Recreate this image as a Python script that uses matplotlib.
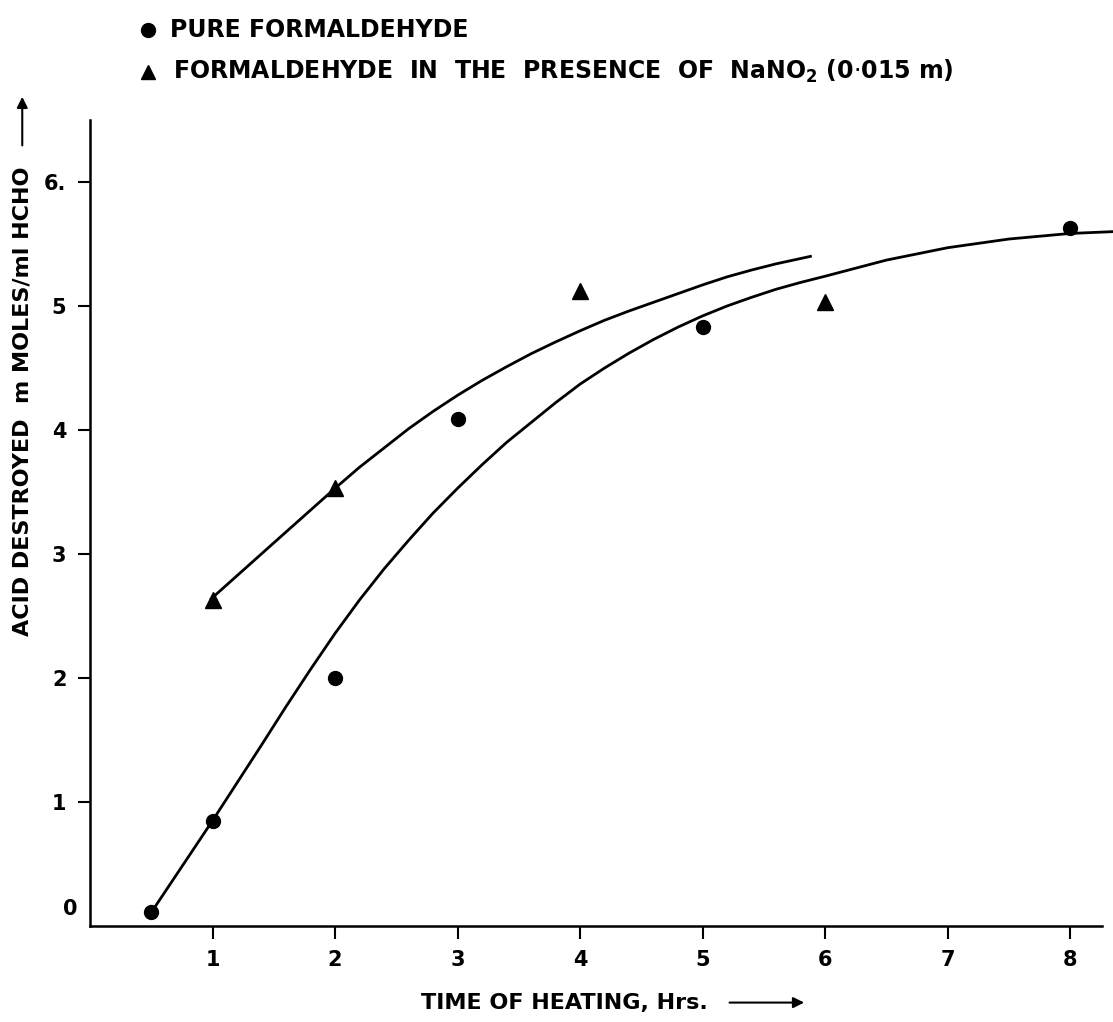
import matplotlib
matplotlib.use("Agg")
import matplotlib.pyplot as plt

plt.rcParams['font.family'] = ['DejaVu Sans']
plt.rcParams['mathtext.fontset'] = 'dejavusans'

# measured points
pure_x = [0.5, 1, 2, 3, 5, 8]
pure_y = [0.11, 0.85, 2.0, 4.09, 4.83, 5.63]
nitrite_x = [1, 2, 4, 6]
nitrite_y = [2.63, 3.53, 5.12, 5.03]

# hand drawn curves
pure_curve_x = [0.5, 1.0, 1.4, 1.6, 1.8, 2.0, 2.2, 2.4, 2.6, 2.8, 3.0, 3.2, 3.4,
                3.6, 3.8, 4.0, 4.2, 4.4, 4.6, 4.8, 5.0, 5.2, 5.4, 5.6, 5.8, 6.0,
                6.5, 7.0, 7.5, 8.0, 8.36]
pure_curve_y = [0.11, 0.85, 1.46, 1.77, 2.07, 2.36, 2.63, 2.88, 3.11, 3.33, 3.53,
                3.72, 3.90, 4.06, 4.22, 4.37, 4.50, 4.62, 4.73, 4.83, 4.92, 5.0,
                5.07, 5.135, 5.19, 5.24, 5.37, 5.47, 5.54, 5.585, 5.60]
nitrite_curve_x = [0.99, 1.5, 2.0, 2.2, 2.4, 2.6, 2.8, 3.0, 3.2, 3.4, 3.6, 3.8,
                   4.0, 4.2, 4.4, 4.6, 4.8, 5.0, 5.2, 5.4, 5.6, 5.88]
nitrite_curve_y = [2.64, 3.09, 3.53, 3.70, 3.855, 4.01, 4.15, 4.28, 4.40, 4.51,
                   4.615, 4.71, 4.80, 4.885, 4.96, 5.03, 5.10, 5.17, 5.235, 5.29,
                   5.34, 5.40]

x_ticks = [1, 2, 3, 4, 5, 6, 7, 8]
y_ticks = [1, 2, 3, 4, 5, 6]
y_tick_labels = ['1', '2', '3', '4', '5', '6.']

fig = plt.figure(figsize=(11.13, 10.22), dpi=100)
ax = fig.add_axes([0.0809, 0.0939, 0.9191, 0.7887])

ax.plot(pure_curve_x, pure_curve_y, color='black', lw=2, clip_on=False,
        solid_joinstyle='round')
ax.plot(nitrite_curve_x, nitrite_curve_y, color='black', lw=2, clip_on=False,
        solid_joinstyle='round')
ax.plot(pure_x, pure_y, 'o', color='black', ms=10, clip_on=False)
ax.plot(nitrite_x, nitrite_y, '^', color='black', ms=11, clip_on=False)

ax.set_xlim(0, 8.35)
ax.set_ylim(0, 6.5)
ax.spines['top'].set_visible(False)
ax.spines['right'].set_visible(False)
ax.spines['left'].set_linewidth(1.8)
ax.spines['bottom'].set_linewidth(1.8)
ax.spines['bottom'].set_bounds(0, 8.26)

ax.set_xticks(x_ticks)
ax.set_xticklabels([str(t) for t in x_ticks], fontsize=15, fontweight='bold')
ax.set_yticks(y_ticks)
ax.set_yticklabels(y_tick_labels, fontsize=15, fontweight='bold')
ax.tick_params(axis='both', direction='out', length=9, width=1.5, pad=8)
ax.text(-0.16, 0.14, '0', fontsize=15, fontweight='bold', ha='center', va='center')

# axis titles with arrows
fig.text(0.507, 0.019, 'TIME OF HEATING, Hrs.', fontsize=16, fontweight='bold',
         ha='center', va='center')
ax.annotate('', xy=(0.725, 0.019), xytext=(0.653, 0.019), xycoords='figure fraction',
            textcoords='figure fraction', annotation_clip=False,
            arrowprops=dict(arrowstyle='-|>', color='black', lw=1.5, mutation_scale=16))
fig.text(0.02, 0.607, 'ACID DESTROYED  m MOLES/ml HCHO', fontsize=16,
         fontweight='bold', rotation=90, ha='center', va='center')
ax.annotate('', xy=(0.02, 0.908), xytext=(0.02, 0.855), xycoords='figure fraction',
            textcoords='figure fraction', annotation_clip=False,
            arrowprops=dict(arrowstyle='-|>', color='black', lw=1.5, mutation_scale=16))

# legend at top
fig.add_artist(plt.Line2D([0.133], [0.971], marker='o', color='black', ms=10,
                          transform=fig.transFigure))
fig.text(0.153, 0.971, 'PURE FORMALDEHYDE', fontsize=17, fontweight='bold', va='center')
fig.add_artist(plt.Line2D([0.133], [0.930], marker='^', color='black', ms=10,
                          transform=fig.transFigure))
fig.text(0.155, 0.930,
         'FORMALDEHYDE  IN  THE  PRESENCE  OF  NaNO$_{\\mathbf{2}}$ (0$\\cdot$015 m)',
         fontsize=17, fontweight='bold', va='center')

fig.savefig('out.png', dpi=100)
